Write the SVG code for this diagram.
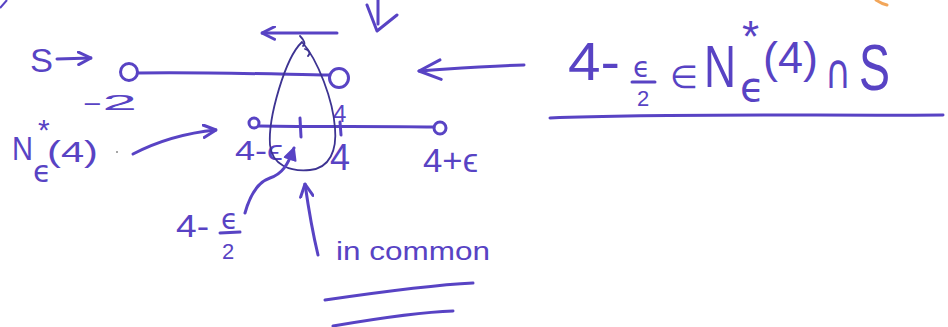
<svg xmlns="http://www.w3.org/2000/svg" width="948" height="327" viewBox="0 0 948 327">
<defs>
<style>
.ink{fill:none;stroke:#5843c4;stroke-width:3;stroke-linecap:round;stroke-linejoin:round}
.thin{fill:none;stroke:#3d3392;stroke-width:1.8;stroke-linecap:round}
.t{font-family:"Liberation Sans","DejaVu Sans",sans-serif;fill:#5843c4}
.m{font-family:"DejaVu Sans","Liberation Sans",sans-serif;fill:#5843c4}
</style>
<marker id="ah" viewBox="0 0 12 12" refX="11" refY="6" markerWidth="15" markerHeight="15" markerUnits="userSpaceOnUse" orient="auto">
<path d="M1,1 L11,6 L1,11" fill="none" stroke="#5843c4" stroke-width="2.4" stroke-linecap="round" stroke-linejoin="round"/>
</marker>
<marker id="ahL" viewBox="0 0 12 12" refX="11" refY="6" markerWidth="26" markerHeight="26" markerUnits="userSpaceOnUse" orient="auto">
<path d="M1,1.5 L11,6 L1,10.5" fill="none" stroke="#5843c4" stroke-width="1.4" stroke-linecap="round" stroke-linejoin="round"/>
</marker>
<marker id="ahF" viewBox="0 0 12 12" refX="11" refY="6" markerWidth="14" markerHeight="14" markerUnits="userSpaceOnUse" orient="auto">
<path d="M1,1 L11,6 L1,11 Z" fill="#5843c4" stroke="#5843c4" stroke-width="1.5" stroke-linejoin="round"/>
</marker>
</defs>
<rect width="948" height="327" fill="#ffffff"/>

<!-- stray marks -->
<path d="M0,8 L7,0" fill="none" stroke="#5843c4" stroke-width="2"/>
<path d="M876,0 Q882,4 887,5" fill="none" stroke="#f2a65a" stroke-width="3" stroke-linecap="round"/>

<g id="set-S">
<circle cx="129" cy="72" r="8.5" class="ink"/>
<path d="M138,73 C200,72 270,74 330,75" class="ink"/>
<circle cx="339" cy="78" r="9.5" class="ink"/>
<text class="t" x="30" y="72" font-size="34" textLength="23" lengthAdjust="spacingAndGlyphs">S</text>
<text class="t" x="82" y="110" font-size="22" textLength="55" lengthAdjust="spacingAndGlyphs">-2</text>
</g>

<g id="neighborhood">
<circle cx="254" cy="123" r="5" class="ink"/>
<path d="M259,126 C320,127 380,126 434,127" class="ink"/>
<circle cx="440" cy="128" r="6" class="ink"/>
<path d="M300,118 L301,137" class="ink" stroke-width="4"/>
<path d="M340,122 L341,135" class="ink" stroke-width="2.2"/>
<text class="t" x="235" y="160" font-size="28" textLength="48" lengthAdjust="spacingAndGlyphs">4-ϵ</text>
<text class="t" x="333" y="122" font-size="24">4</text>
<text class="t" x="330" y="170" font-size="36">4</text>
<text class="t" x="423" y="172" font-size="34" textLength="55" lengthAdjust="spacingAndGlyphs">4+ϵ</text>
</g>

<g id="overlap-loop">
<path d="M302,42 C285,58 268,118 270,145 C272,165 290,172 310,170 C330,168 337,150 335,128 C333,100 318,60 302,42" class="thin"/>
<path d="M300,36 C304,40 306,44 303,46 M305,49 C309,50 311,53 308,56" class="thin"/>
</g>

<g id="label-N">
<text class="t" x="12" y="160" font-size="34" textLength="21" lengthAdjust="spacingAndGlyphs">N</text>
<text class="t" x="38" y="140" font-size="30">*</text>
<text class="m" x="33" y="182" font-size="30">ϵ</text>
<text class="t" x="47" y="162" font-size="30" textLength="51" lengthAdjust="spacingAndGlyphs">(4)</text>
<circle cx="117" cy="152" r="1" fill="#888"/>
</g>

<g id="label-half">
<text class="t" x="176" y="237" font-size="32" textLength="33" lengthAdjust="spacingAndGlyphs">4-</text>
<text class="m" x="221" y="229" font-size="28">ϵ</text>
<path d="M220,233 L240,232" class="ink" stroke-width="2.2"/>
<text class="t" x="222" y="259" font-size="22">2</text>
</g>

<g id="label-common">
<text class="t" x="336" y="260" font-size="26" textLength="154" lengthAdjust="spacingAndGlyphs">in common</text>
<path d="M325,300 C380,292 430,285 473,283" class="ink" stroke-width="2.4"/>
<path d="M333,326 C380,318 420,312 453,311" class="ink" stroke-width="2.4"/>
</g>

<g id="statement">
<text class="t" x="568" y="80" font-size="54" textLength="52" lengthAdjust="spacingAndGlyphs">4-</text>
<text class="m" x="633" y="77" font-size="28">ϵ</text>
<path d="M632,82 L655,82" class="ink" stroke-width="2.2"/>
<text class="t" x="637" y="106" font-size="22">2</text>
<text class="m" x="670" y="88" font-size="32">∈</text>
<text class="t" transform="translate(704,87) scale(0.74,1)" font-size="60">N</text>
<text class="t" x="742" y="52" font-size="44">*</text>
<text class="m" x="740" y="101" font-size="40">ϵ</text>
<text class="t" x="763" y="73" font-size="44" textLength="55" lengthAdjust="spacingAndGlyphs">(4)</text>
<text class="m" x="825" y="88" font-size="48" textLength="26" lengthAdjust="spacingAndGlyphs">∩</text>
<text class="t" x="859" y="90" font-size="64" textLength="31" lengthAdjust="spacingAndGlyphs">S</text>
<path d="M550,118 C680,113 820,116 943,115" class="ink" stroke-width="2.6"/>
</g>

<g id="connectors">
<path d="M57,59 L91,58" class="ink" marker-end="url(#ah)"/>
<path d="M337,33 L262,33" class="ink" marker-end="url(#ah)"/>
<path d="M378,0 L378,24 M367,5 L377,31 L397,15" class="ink"/>
<path d="M524,65 C480,66 450,69 419,71" class="ink" marker-end="url(#ahL)"/>
<path d="M133,154 C160,140 185,133 216,130" class="ink" marker-end="url(#ah)"/>
<path d="M245,213 C250,195 258,182 270,178 C282,174 288,165 294,148" class="ink" marker-end="url(#ahF)"/>
<path d="M318,255 C312,230 308,205 305,184" class="ink" marker-end="url(#ah)"/>
</g>
</svg>
